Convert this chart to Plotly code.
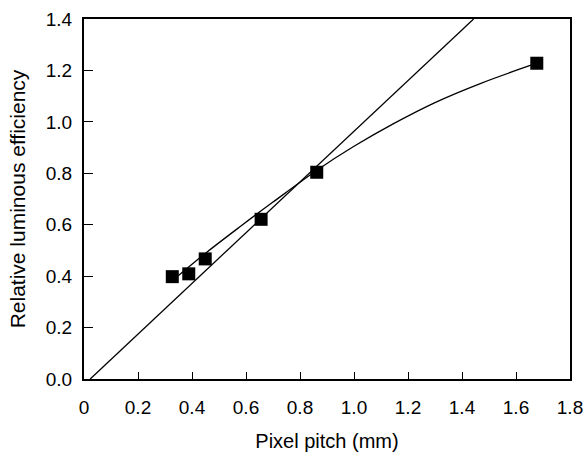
import plotly.graph_objects as go

# measured data points
pitch_mm = [0.327, 0.388, 0.449, 0.656, 0.862, 1.677]
efficiency = [0.398, 0.409, 0.467, 0.621, 0.804, 1.228]

# straight line (endpoints)
line_x = [0.023, 1.443]
line_y = [0.0, 1.4]

# curved fit
curve_x = [0.33, 0.45, 0.58, 0.70, 0.86, 1.00, 1.15, 1.30, 1.47, 1.677]
curve_y = [0.385, 0.489, 0.594, 0.688, 0.810, 0.905, 0.995, 1.075, 1.150, 1.228]

x_ticks = [0, 0.2, 0.4, 0.6, 0.8, 1.0, 1.2, 1.4, 1.6, 1.8]
x_labels = ["0", "0.2", "0.4", "0.6", "0.8", "1.0", "1.2", "1.4", "1.6", "1.8"]
y_ticks = [0, 0.2, 0.4, 0.6, 0.8, 1.0, 1.2, 1.4]
y_labels = ["0.0", "0.2", "0.4", "0.6", "0.8", "1.0", "1.2", "1.4"]

fig = go.Figure()
fig.add_trace(go.Scatter(x=line_x, y=line_y, mode="lines",
                         line=dict(color="black", width=1.3), hoverinfo="skip"))
fig.add_trace(go.Scatter(x=curve_x, y=curve_y, mode="lines",
                         line=dict(color="black", width=1.3, shape="spline", smoothing=1.0),
                         hoverinfo="skip"))
fig.add_trace(go.Scatter(x=pitch_mm, y=efficiency, mode="markers",
                         marker=dict(symbol="square", size=13, color="black"),
                         hoverinfo="skip"))

font = "Liberation Sans, Arial, sans-serif"
fig.update_layout(
    width=586, height=464,
    margin=dict(l=84, r=16, t=19, b=85),
    paper_bgcolor="white", plot_bgcolor="white",
    showlegend=False,
    hovermode=False,
    font=dict(family=font, size=19, color="black"),
    xaxis=dict(range=[0, 1.8], tickvals=x_ticks, ticktext=x_labels,
               ticks="inside", ticklen=7, tickwidth=1, tickcolor="black",
               showline=True, linecolor="black", linewidth=2, mirror=True,
               showgrid=False, zeroline=False, ticklabelstandoff=10,
               automargin=False,
               title=dict(text="Pixel pitch (mm)", standoff=17, font=dict(size=20))),
    yaxis=dict(range=[0, 1.4], tickvals=y_ticks, ticktext=y_labels,
               ticks="inside", ticklen=9, tickwidth=1, tickcolor="black",
               showline=True, linecolor="black", linewidth=2, mirror=True,
               showgrid=False, zeroline=False, ticklabelstandoff=6,
               automargin=False,
               title=dict(text="Relative luminous efficiency", standoff=14, font=dict(size=21))),
)

fig.write_html(
    "out.html",
    config={"displayModeBar": False, "staticPlot": True},
    post_script="document.body.style.margin='0';document.body.style.padding='0';",
)
